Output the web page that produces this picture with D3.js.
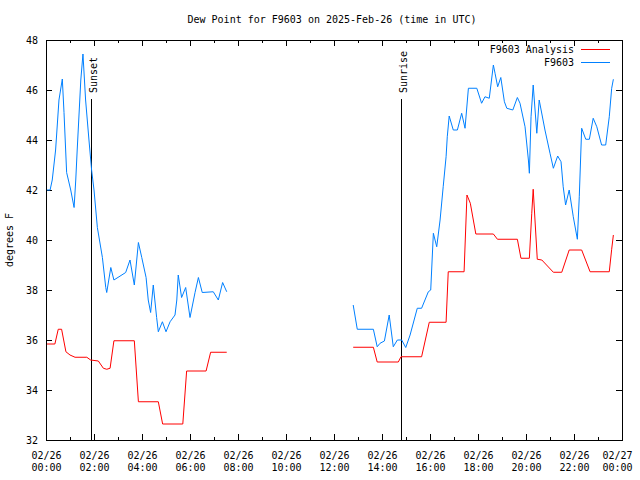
<!DOCTYPE html>
<html>
<head>
<meta charset="utf-8">
<script src="https://cdn.jsdelivr.net/npm/d3@7"></script>
<style>
html,body{margin:0;padding:0;background:#fff;}
svg{display:block;}
text{font-family:"DejaVu Sans Mono","Liberation Mono",monospace;font-size:10px;fill:#000;}
</style>
</head>
<body>
<svg id="chart" width="640" height="480"></svg>
<script>
// ---- data (hours since 2025-02-26 00:00 UTC; null = gap) ----
const obsHours = [0.04,0.17,0.26,0.40,0.54,0.68,0.75,0.86,1.03,1.17,1.24,1.30,1.45,1.54,1.65,1.79,1.90,2.00,2.14,2.35,2.49,2.53,2.70,2.83,3.32,3.50,3.68,3.78,3.85,3.99,4.17,4.26,4.36,4.47,4.61,4.68,4.85,5.00,5.17,5.375,5.45,5.51,5.65,5.82,6.00,6.21,6.35,6.51,6.97,7.18,7.36,7.53,
  10.0,
  12.80,12.97,13.64,13.80,13.92,14.10,14.30,14.47,14.64,14.82,14.99,15.17,15.47,15.65,15.93,16.03,16.14,16.28,16.42,16.55,16.67,16.72,16.80,16.97,17.14,17.32,17.46,17.60,17.95,18.15,18.29,18.47,18.64,18.71,18.82,18.95,19.10,19.20,19.45,19.64,19.75,19.96,20.10,20.14,20.21,20.30,20.45,20.55,20.79,21.00,21.14,21.32,21.46,21.55,21.65,21.80,21.97,22.14,22.22,22.32,22.49,22.64,22.80,22.95,23.15,23.32,23.47,23.57,23.64];
const obsValues = [42.0,42.0,42.4,43.6,45.6,46.44,45.1,42.7,42.0,41.3,42.4,43.6,46.4,47.44,45.6,44.0,42.8,42.0,40.5,39.3,38.1,37.9,38.9,38.4,38.7,39.2,38.2,39.2,39.9,39.3,38.5,37.6,37.1,38.2,36.9,36.33,36.73,36.33,36.73,37.0,37.6,38.6,37.7,38.1,36.9,37.9,38.5,37.9,37.93,37.6,38.3,37.93,
  null,
  37.4,36.43,36.43,35.73,35.87,35.96,37.0,35.73,36.0,36.0,35.7,36.2,37.27,37.27,37.93,38.0,40.27,39.73,40.8,42.13,43.33,44.13,44.96,44.4,44.4,45.07,44.47,46.07,46.07,45.47,45.73,45.67,47.0,46.67,46.13,46.5,45.53,45.27,45.2,45.7,45.47,44.53,43.2,42.67,44.93,46.2,44.27,45.6,44.4,43.47,42.87,43.36,43.13,42.13,41.4,42.0,40.93,40.03,41.73,44.47,44.03,44.03,44.87,44.53,43.8,43.8,44.93,46.07,46.43];

const anaHours = [0.04,0.37,0.51,0.65,0.83,1.00,1.21,1.70,1.86,2.18,2.39,2.53,2.67,2.83,3.68,3.85,4.68,4.86,5.70,5.86,6.67,6.86,7.53,
  10.0,
  12.80,13.64,13.80,14.68,14.79,15.65,15.97,16.67,16.76,17.42,17.54,17.68,17.91,18.64,18.81,19.64,19.79,20.14,20.24,20.30,20.47,20.66,21.14,21.49,21.80,22.32,22.67,23.47,23.57,23.64];
const anaValues = [35.84,35.84,36.43,36.43,35.53,35.4,35.31,35.31,35.2,35.16,34.87,34.83,34.87,35.97,35.97,33.53,33.53,32.64,32.64,34.76,34.76,35.51,35.51,
  null,
  35.71,35.71,35.12,35.12,35.33,35.33,36.71,36.71,38.73,38.73,41.8,41.47,40.24,40.24,40.03,40.03,39.27,39.27,41.07,42.03,39.23,39.2,38.71,38.71,39.6,39.6,38.73,38.73,39.63,40.2];

const seriesNames = ["F9603 Analysis","F9603"];
const seriesColors = ["#ff0000","#0080ff"];

const sunEvents = ["Sunset","Sunrise"];
const sunHours = [1.90, 14.80];

const xTickHours = [0,2,4,6,8,10,12,14,16,18,20,22,24];
const xTickDates = ["02/26","02/26","02/26","02/26","02/26","02/26","02/26","02/26","02/26","02/26","02/26","02/26","02/27"];
const xTickTimes = ["00:00","02:00","04:00","06:00","08:00","10:00","12:00","14:00","16:00","18:00","20:00","22:00","00:00"];
const yTicks = [32,34,36,38,40,42,44,46,48];

const titleText = "Dew Point for F9603 on 2025-Feb-26 (time in UTC)";
const yLabel = "degrees F";

// ---- layout ----
const L = 46, R = 622, T = 40, B = 440;
const svg = d3.select("#chart");
const x = d3.scaleLinear().domain([0,24]).range([L,R]);
const y = d3.scaleLinear().domain([32,48]).range([B,T]);

const minorHours = d3.range(0,25,1);

function styleAxis(g){
  g.select(".domain").remove();
  g.selectAll("line").attr("stroke","#000").attr("shape-rendering","crispEdges");
}

// bottom ticks (major + minor), inward
svg.append("g").attr("transform",`translate(0,${B})`)
  .call(d3.axisBottom(x).tickValues(minorHours.filter(h=>h%2===1)).tickSize(-3).tickFormat(""))
  .call(styleAxis);
const xb = svg.append("g").attr("transform",`translate(0,${B})`)
  .call(d3.axisBottom(x).tickValues(xTickHours).tickSize(-6).tickFormat(""))
  .call(styleAxis);
xb.selectAll(".tick").each(function(d,i){
  const shift = (i === xTickHours.length-1) ? -5 : 0;
  const t = d3.select(this).append("text").attr("fill","#000").attr("text-anchor","middle");
  t.append("tspan").attr("x",shift).attr("y",19).text(xTickDates[i]);
  t.append("tspan").attr("x",shift).attr("y",31).text(xTickTimes[i]);
});
// top ticks
svg.append("g").attr("transform",`translate(0,${T})`)
  .call(d3.axisTop(x).tickValues(minorHours.filter(h=>h%2===1)).tickSize(-3).tickFormat(""))
  .call(styleAxis);
svg.append("g").attr("transform",`translate(0,${T})`)
  .call(d3.axisTop(x).tickValues(xTickHours).tickSize(-6).tickFormat(""))
  .call(styleAxis);

// left axis
const yl = svg.append("g").attr("transform",`translate(${L},0)`)
  .call(d3.axisLeft(y).tickValues(yTicks).tickSize(-6).tickPadding(8).tickFormat(d3.format("d")))
  .call(styleAxis);
yl.selectAll("text").attr("font-family",null).attr("font-size",null).attr("fill","#000").attr("dy","0.35em");
// right axis mirror ticks
svg.append("g").attr("transform",`translate(${R},0)`)
  .call(d3.axisRight(y).tickValues(yTicks).tickSize(-6).tickFormat(""))
  .call(styleAxis);
xb.selectAll("text").attr("font-family",null).attr("font-size",null);

// border
svg.append("rect").attr("x",L).attr("y",T).attr("width",R-L).attr("height",B-T)
  .attr("fill","none").attr("stroke","#000").attr("shape-rendering","crispEdges");

// sunset / sunrise
sunHours.forEach((h,i)=>{
  const px = Math.floor(x(h))+0.5;
  svg.append("line").attr("x1",px).attr("x2",px)
    .attr("y1",99).attr("y2",B).attr("stroke","#000");
  svg.append("text").attr("transform",`translate(${px+5},93) rotate(-90)`)
    .attr("text-anchor","start").text(sunEvents[i]);
});

// series
const line = d3.line().defined(d=>d[1]!==null).x(d=>x(d[0])).y(d=>y(d[1]));
const ana = anaHours.map((h,i)=>[h,anaValues[i]]);
const obs = obsHours.map((h,i)=>[h,obsValues[i]]);
svg.append("path").datum(ana).attr("d",line).attr("fill","none").attr("stroke",seriesColors[0]).attr("stroke-width",1);
svg.append("path").datum(obs).attr("d",line).attr("fill","none").attr("stroke",seriesColors[1]).attr("stroke-width",1);

// legend
seriesNames.forEach((n,i)=>{
  const yy = 49.5 + i*13;
  svg.append("text").attr("x",574).attr("y",yy).attr("dy","0.35em").attr("text-anchor","end").text(n);
  svg.append("line").attr("x1",581).attr("x2",610).attr("y1",yy).attr("y2",yy)
    .attr("stroke",seriesColors[i]).attr("stroke-width",1);
});

// title and y label
svg.append("text").attr("x",332).attr("y",19).attr("dy","0.35em").attr("text-anchor","middle").text(titleText);
svg.append("text").attr("transform","translate(13,240) rotate(-90)").attr("text-anchor","middle").text(yLabel);
</script>
</body>
</html>
